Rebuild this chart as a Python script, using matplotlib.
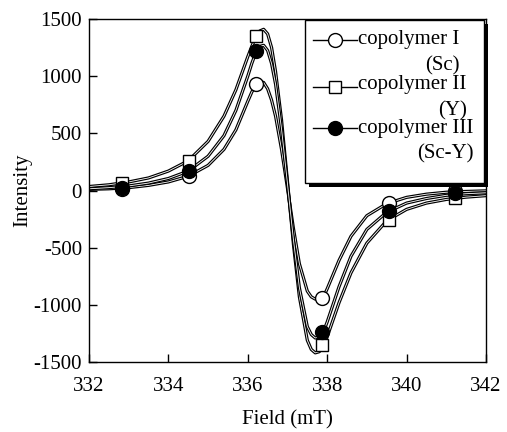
import numpy as np
import matplotlib.pyplot as plt
import matplotlib.patheffects as pe
from matplotlib.patches import Rectangle
from matplotlib.lines import Line2D

plt.rcParams['font.family'] = ['Liberation Serif', 'DejaVu Serif']
plt.rcParams['font.size'] = 15
plt.rcParams['axes.unicode_minus'] = False

# curve samples (field in mT)
field = [332.0, 332.5, 333.0, 333.5, 334.0, 334.5, 335.0, 335.4, 335.7, 336.0,
         336.1, 336.2, 336.3, 336.4, 336.5, 336.6, 336.7, 336.85, 337.0, 337.15,
         337.3, 337.5, 337.6, 337.7, 337.8, 337.9, 338.0, 338.3, 338.6, 339.0,
         339.5, 340.0, 340.5, 341.0, 341.5, 342.0]

curve_sc = [10, 15, 25, 45, 75, 125, 220, 360, 530, 780,
            860, 925, 950, 945, 890, 790, 650, 360, 20, -330,
            -640, -880, -930, -950, -950, -935, -860, -610, -400, -220,
            -115, -60, -32, -15, -8, -3]

curve_y = [35, 50, 75, 110, 170, 260, 430, 650, 880, 1170,
           1260, 1340, 1395, 1410, 1370, 1250, 1040, 620, 80, -470,
           -930, -1310, -1390, -1420, -1410, -1370, -1280, -980, -720, -460,
           -265, -165, -110, -78, -58, -45]

curve_scy = [15, 25, 40, 65, 105, 170, 300, 480, 700, 1000,
             1110, 1205, 1260, 1270, 1225, 1110, 930, 540, 60, -430,
             -850, -1190, -1260, -1290, -1280, -1240, -1150, -840, -575, -340,
             -190, -110, -70, -42, -28, -20]

# marker positions
mark_field = [332.83, 334.52, 336.2, 337.88, 339.56, 341.22]
mark_sc = [10, 125, 930, -940, -108, -6]
mark_y = [70, 257, 1350, -1355, -254, -64]
mark_scy = [26, 170, 1220, -1240, -181, -26]

labels = ['copolymer I\n(Sc)', 'copolymer II\n(Y)', 'copolymer III\n(Sc-Y)']

fig = plt.figure(figsize=(5.07, 4.32), dpi=100)
ax = fig.add_axes([0.1755, 0.162, 0.783, 0.794])

hollow = [pe.Stroke(linewidth=2.3, foreground='black'), pe.Normal()]
for yy in (curve_sc, curve_y, curve_scy):
    ax.plot(field, yy, color='white', lw=0.6, path_effects=hollow, zorder=2)

ax.plot(mark_field, mark_sc, 'o', ms=10, mfc='white', mec='black', mew=1.0, zorder=3)
ax.plot(mark_field, mark_y, 's', ms=9, mfc='white', mec='black', mew=1.0, zorder=4)
ax.plot(mark_field, mark_scy, 'o', ms=10, mfc='black', mec='black', mew=1.0, zorder=5)

# hand-made legend box with drop shadow
tr = ax.transAxes
ax.add_patch(Rectangle((0.555, 0.509), 0.451, 0.476, transform=tr, facecolor='black',
                       edgecolor='none', clip_on=False, zorder=6))
ax.add_patch(Rectangle((0.544, 0.522), 0.451, 0.476, transform=tr, facecolor='white',
                       edgecolor='black', lw=1.0, clip_on=False, zorder=7))
styles = [dict(marker='o', ms=10, mfc='white'),
          dict(marker='s', ms=9, mfc='white'),
          dict(marker='o', ms=10, mfc='black')]
handle_y = [0.939, 0.802, 0.682]
text_y = [0.851, 0.720, 0.592]   # baseline of the second line
for st, hy, ty, lab in zip(styles, handle_y, text_y, labels):
    ax.add_line(Line2D([0.564, 0.675], [hy, hy], transform=tr, color='black', lw=1,
                       clip_on=False, zorder=8))
    ax.add_line(Line2D([0.62], [hy], transform=tr, ls='none', mec='black', mew=1.0,
                       clip_on=False, zorder=9, **st))
    ax.text(0.678, ty, lab, transform=tr, ha='left', va='baseline',
            multialignment='right', linespacing=1.45, fontsize=15, zorder=9)

ax.set_xlim(332, 342)
ax.set_ylim(-1500, 1500)
ax.set_xticks([332, 334, 336, 338, 340, 342])
ax.set_yticks([-1500, -1000, -500, 0, 500, 1000, 1500])
ax.tick_params(direction='in', length=6, width=1, labelsize=15)
ax.tick_params(axis='x', pad=11)
ax.tick_params(axis='y', pad=5)
for s in ax.spines.values():
    s.set_linewidth(1.0)
ax.set_xlabel('Field (mT)', fontsize=15, labelpad=10)
ax.set_ylabel('Intensity', fontsize=15, labelpad=1)

fig.savefig('out.png', dpi=100)
